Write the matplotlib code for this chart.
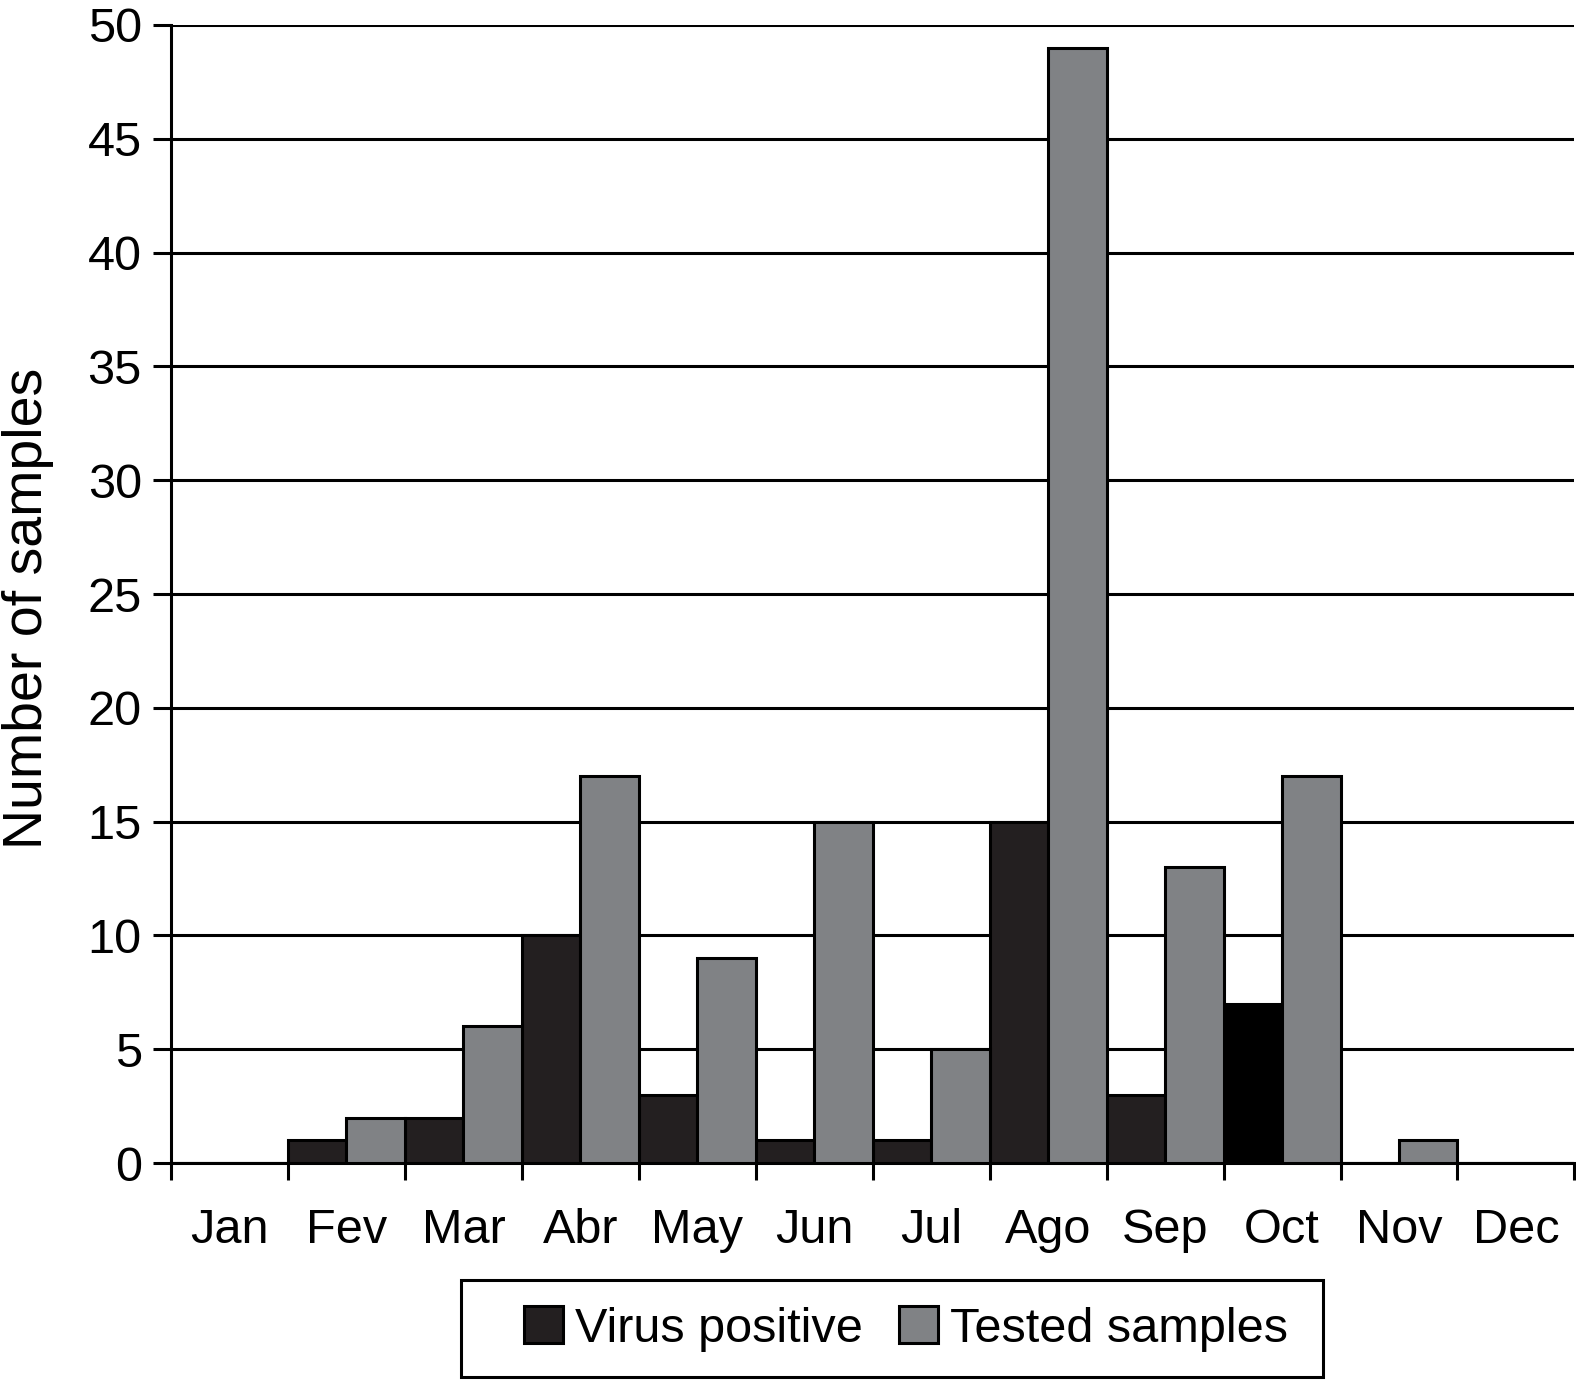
import numpy as np
import matplotlib
matplotlib.use("Agg")
import matplotlib.pyplot as plt
from matplotlib.patches import Rectangle

plt.rcParams["font.family"] = ["Liberation Sans", "DejaVu Sans"]

months = ["Jan", "Fev", "Mar", "Abr", "May", "Jun", "Jul", "Ago", "Sep", "Oct", "Nov", "Dec"]
virus_positive = [0, 1, 2, 10, 3, 1, 1, 15, 3, 7, 0, 0]
tested_samples = [0, 2, 6, 17, 9, 15, 5, 49, 13, 17, 1, 0]

DARK = "#231f20"
GRAY = "#808285"
FS = 35
LW = 2.2
W_PX, H_PX = 1576, 1380

fig = plt.figure(figsize=(W_PX / 100, H_PX / 100), dpi=100)
ax = fig.add_axes([0.1085, 0.1572, 0.8905, 0.8247])

x = np.arange(len(months))
w = 0.5
pos_colors = [DARK] * len(months)
pos_colors[9] = "#000000"  # Oct bar is printed pure black
ax.bar(x - w / 2, virus_positive, w, color=pos_colors, edgecolor="black",
       linewidth=LW, label="Virus positive", zorder=3)
ax.bar(x + w / 2, tested_samples, w, color=GRAY, edgecolor="black",
       linewidth=LW, label="Tested samples", zorder=3)

ax.set_xlim(-0.5, len(months) - 0.5)
ax.set_ylim(0, 50)
ax.set_yticks(np.arange(0, 51, 5))
ax.yaxis.grid(True, color="black", linewidth=LW, zorder=1)
ax.set_axisbelow(True)

# ticks on category boundaries, labels centred in between
ax.set_xticks(np.arange(-0.5, len(months), 1.0))
ax.set_xticklabels([])
ax.set_xticks(x, minor=True)
ax.set_xticklabels(months, minor=True, fontsize=FS)
ax.tick_params(axis="x", which="major", direction="out", length=12, width=LW)
ax.tick_params(axis="x", which="minor", length=0, pad=32)
ax.tick_params(axis="y", direction="out", length=13, width=LW, labelsize=FS, pad=8)

for side in ["top", "right"]:
    ax.spines[side].set_visible(False)
ax.spines["left"].set_linewidth(LW)
ax.spines["bottom"].set_linewidth(LW)

fig.text(28 / W_PX, 1 - 608 / H_PX, "Number of samples", fontsize=40,
         rotation=90, ha="center", va="center")

# legend box: frame drawn separately, the content sits off-centre in it
box_l, box_r, box_t, box_b = 461, 1323, 1280, 1377
fig.patches.append(Rectangle((box_l / W_PX, 1 - box_b / H_PX),
                             (box_r - box_l) / W_PX, (box_b - box_t) / H_PX,
                             transform=fig.transFigure, fill=False,
                             edgecolor="black", linewidth=LW))
leg = fig.legend(loc="center", bbox_to_anchor=(906 / W_PX, 1 - 1329 / H_PX), ncol=2,
                 fontsize=FS, frameon=False,
                 handlelength=0.8, handleheight=0.8, handletextpad=0.25,
                 columnspacing=0.75, borderpad=0, borderaxespad=0)
for h in leg.legend_handles:
    h.set_linewidth(LW)

fig.savefig("out.png", dpi=100)
